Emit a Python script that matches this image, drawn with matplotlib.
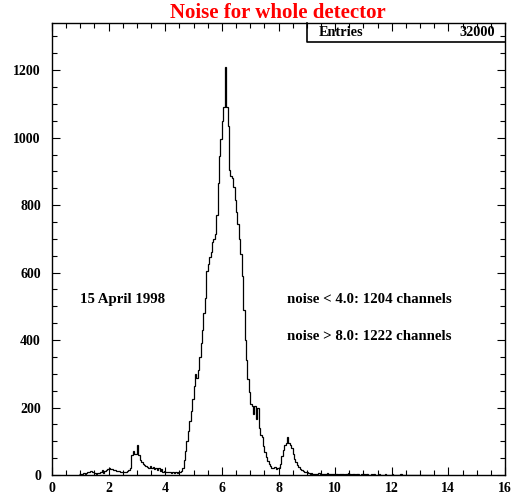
import numpy as np
import matplotlib
matplotlib.use('Agg')
import matplotlib.pyplot as plt
from matplotlib.ticker import MultipleLocator

# histogram contents, bin width 0.05, first bin starts at 0.95
bin_start = 0.95
bin_width = 0.05
counts = [
    2, 3, 2, 5, 4, 6, 8, 10, 12, 10,            # 0.95 - 1.45
    8, 5, 4, 5, 6, 8, 14, 6, 12, 15,            # 1.45 - 1.95
    18, 21, 18, 19, 15, 14, 13, 12, 11, 10,     # 1.95 - 2.45
    9, 8, 8, 9, 12, 14, 20, 58, 72, 62,         # 2.45 - 2.95
    62, 88, 58, 45, 38, 33, 30, 27, 24, 22,     # 2.95 - 3.45
    28, 20, 25, 17, 22, 15, 20, 12, 18, 10,     # 3.45 - 3.95
    12, 8, 10, 8, 10, 6, 8, 5, 8, 6,            # 3.95 - 4.45
    10, 8, 12, 22, 45, 70, 100, 130, 160, 190,  # 4.45 - 4.95
    225, 265, 300, 288, 312, 350, 390, 430, 480, 525,    # 4.95 - 5.45
    605, 625, 645, 660, 690, 700, 715, 770, 865, 945,    # 5.45 - 5.95
    995, 1050, 1090, 1210, 1090, 1035, 905, 885, 880, 855,  # 5.95 - 6.45
    815, 780, 745, 700, 655, 590, 490, 400, 340, 285,    # 6.45 - 6.95
    245, 210, 205, 182, 205, 165, 198, 140, 120, 112,    # 6.95 - 7.45
    85, 68, 52, 42, 33, 28, 22, 20, 23, 18,     # 7.45 - 7.95
    20, 21, 32, 55, 75, 88, 95, 112, 96, 88,    # 7.95 - 8.45
    80, 62, 47, 38, 30, 25, 18, 15, 12, 8,      # 8.45 - 8.95
    10, 10, 5, 4, 6, 3, 2, 4, 3, 5,             # 8.95 - 9.45
    2, 3, 4, 2, 3, 5, 2, 3, 2, 4,               # 9.45 - 9.95
    3, 2, 3, 1, 2, 4, 2, 1, 3, 2,               # 9.95 - 10.45
    5, 2, 1, 3, 2, 1, 2, 3, 1, 2,               # 10.45 - 10.95
    4, 2, 1, 2, 1, 0, 2, 1, 2, 1,               # 10.95 - 11.45
    0, 1, 2, 1, 0, 1, 2, 0, 1, 0,               # 11.45 - 11.95
    1, 2, 0, 1, 0, 1, 0, 2, 0, 1,               # 11.95 - 12.45
    0, 1, 0, 0, 1, 0, 0, 1, 0, 0,               # 12.45 - 12.95
    1, 0, 0, 0, 1, 0, 0, 0, 1, 0,               # 12.95 - 13.45
]
n_entries = 32000
title = "Noise for whole detector"
date_text = "15 April 1998"
noise_lines = ["noise < 4.0: 1204 channels", "noise > 8.0: 1222 channels"]

edges = bin_start + bin_width * np.arange(len(counts) + 1)

font = {'family': 'Liberation Serif', 'weight': 'bold'}

fig = plt.figure(figsize=(5.13, 5.0), dpi=100, facecolor='white')
ax = fig.add_axes([52/513, 25/500, 453/513, 452/500])

ax.stairs(counts, edges, color='black', lw=0.9, baseline=None)

ax.set_xlim(0, 16)
ax.set_ylim(0, 1340)
ax.xaxis.set_major_locator(MultipleLocator(2))
ax.xaxis.set_minor_locator(MultipleLocator(0.5))
ax.yaxis.set_major_locator(MultipleLocator(200))
ax.yaxis.set_minor_locator(MultipleLocator(50))
ax.tick_params(which='both', direction='in', top=True, right=True, width=0.8)
ax.tick_params(which='major', length=6)
ax.tick_params(which='minor', length=3.5)
ax.tick_params(axis='x', pad=5)
ax.tick_params(axis='y', pad=8)
for lab in ax.get_xticklabels() + ax.get_yticklabels():
    lab.set_fontfamily('Liberation Serif')
    lab.set_fontweight('bold')
    lab.set_fontsize(10)
for sp in ax.spines.values():
    sp.set_linewidth(1.0)

# title
fig.text(0.542, 0.973, title, color='red', ha='center', va='center',
         fontsize=15, **font)

# stats box
bx0 = (307 - 52) / 453
by0 = 1 - (42 - 23) / 452
ax.plot([bx0, bx0, 1], [1, by0, by0], transform=ax.transAxes,
        color='black', lw=1.2, clip_on=False)
ax.text(bx0 + 0.025, (1 + by0) / 2, "Entries", transform=ax.transAxes,
        ha='left', va='center', fontsize=10.3, **font)
ax.text(0.978, (1 + by0) / 2, str(n_entries), transform=ax.transAxes,
        ha='right', va='center', fontsize=10.3, **font)

# annotations
ax.text(1.0, 520, date_text, ha='left', va='center', fontsize=10.7, **font)
ax.text(8.3, 520, noise_lines[0], ha='left', va='center', fontsize=10.7, **font)
ax.text(8.3, 412, noise_lines[1], ha='left', va='center', fontsize=10.7, **font)

fig.savefig('out.png', dpi=100)
